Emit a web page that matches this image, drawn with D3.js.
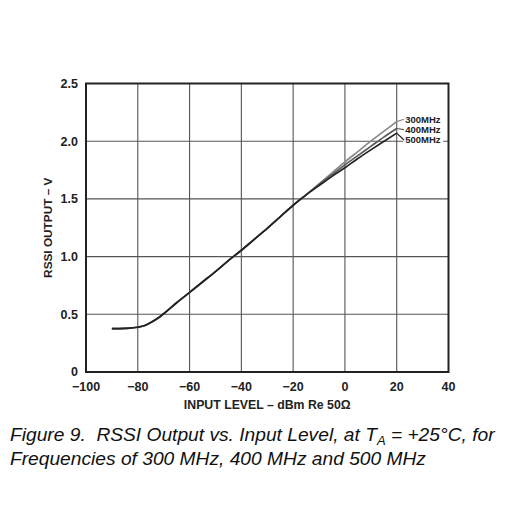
<!DOCTYPE html>
<html><head><meta charset="utf-8">
<script src="https://cdn.jsdelivr.net/npm/d3@7"></script>
<style>body{margin:0;background:#fff}svg{display:block}</style>
</head><body>
<script>
const inputLevel = [-90,-85,-80,-77,-75,-72,-70,-65,-60,-55,-50,-45,-40,-35,-30,-25,-20,-15,-10,-5,0,5,10,15,20];
const common =     [0.375,0.378,0.388,0.405,0.428,0.47,0.505,0.6,0.69,0.78,0.87,0.965,1.055,1.15,1.245,1.345,1.445,1.535];
const rssi300 = common.concat([1.63,1.725,1.82,1.91,2.0,2.085,2.17]);
const rssi400 = common.concat([1.625,1.71,1.795,1.875,1.955,2.035,2.11]);
const rssi500 = common.concat([1.615,1.695,1.77,1.85,1.925,1.998,2.07]);
const seriesNames = ["300MHz","400MHz","500MHz"];
const labelLevels = [2.19,2.10,2.01];
const xTicks = [-100,-80,-60,-40,-20,0,20,40];
const yTicks = [0,0.5,1.0,1.5,2.0,2.5];
const yTickLabels = ["0","0.5","1.0","1.5","2.0","2.5"];

const W=520,H=520;
const svg=d3.select("body").append("svg").attr("width",W).attr("height",H);
const x=d3.scaleLinear().domain([-100,40]).range([86,448.5]);
const y=d3.scaleLinear().domain([0,2.5]).range([372,83.5]);
const font="'Liberation Sans', Arial, sans-serif";

// grid
svg.append("g").selectAll("line").data(xTicks.slice(1,-1)).join("line")
  .attr("x1",d=>x(d)).attr("x2",d=>x(d)).attr("y1",y(0)).attr("y2",y(2.5))
  .attr("stroke","#555").attr("stroke-width",1.1);
svg.append("g").selectAll("line").data(yTicks.slice(1,-1)).join("line")
  .attr("y1",d=>y(d)).attr("y2",d=>y(d)).attr("x1",x(-100)).attr("x2",x(40))
  .attr("stroke","#555").attr("stroke-width",1.1);

// curves
const colors=["#8a8a8a","#5a5a5a","#222"];
const data=[rssi300,rssi400,rssi500];
const line=d3.line().x((d,i)=>x(inputLevel[i])).y(d=>y(d)).curve(d3.curveMonotoneX);
data.forEach((s,k)=>{
  svg.append("path").attr("d",line(s)).attr("fill","none")
    .attr("stroke",colors[k]).attr("stroke-width",1.7);
});

// legend labels with leaders
seriesNames.forEach((n,k)=>{
  const s=data[k];
  const ex=x(inputLevel[inputLevel.length-1]), ey=y(s[s.length-1]);
  const ly=y(labelLevels[k]);
  svg.append("rect").attr("x",x(22.5)).attr("y",ly-5).attr("width",40).attr("height",10).attr("fill","#fff");
  svg.append("line").attr("x1",ex).attr("y1",ey).attr("x2",x(22.8)).attr("y2",ly)
    .attr("stroke",colors[k]).attr("stroke-width",1.2);
  svg.append("text").attr("x",x(23.3)).attr("y",ly).attr("dy","0.35em")
    .attr("font-family",font).attr("font-weight","bold").attr("font-size",9.5)
    .attr("fill","#222").text(n);
});

// frame
svg.append("rect").attr("x",x(-100)).attr("y",y(2.5)).attr("width",x(40)-x(-100)).attr("height",y(0)-y(2.5))
  .attr("fill","none").attr("stroke","#222").attr("stroke-width",2);

// tick labels
svg.append("g").selectAll("text").data(yTicks).join("text")
  .attr("x",78).attr("y",d=>y(d)).attr("dy","0.35em").attr("text-anchor","end")
  .attr("font-family",font).attr("font-weight","bold").attr("font-size",12.5).attr("fill","#222")
  .text((d,i)=>yTickLabels[i]);
svg.append("g").selectAll("text").data(xTicks).join("text")
  .attr("x",d=>x(d)).attr("y",391).attr("text-anchor","middle")
  .attr("font-family",font).attr("font-weight","bold").attr("font-size",12.5).attr("fill","#222")
  .text(d=>d<0?"\u2212"+Math.abs(d):d);

// axis titles
svg.append("text").attr("x",x(-30)).attr("y",409).attr("text-anchor","middle")
  .attr("font-family",font).attr("font-weight","bold").attr("font-size",12.3).attr("fill","#222")
  .text("INPUT LEVEL \u2013 dBm Re 50\u03A9");
svg.append("text").attr("transform","translate(52,"+y(1.25)+") rotate(-90)").attr("text-anchor","middle")
  .attr("font-family",font).attr("font-weight","bold").attr("font-size",11.8).attr("fill","#222")
  .text("RSSI OUTPUT \u2013 V");

// caption
const cap=svg.append("text").attr("font-family",font).attr("font-style","italic").attr("font-size",19.2).attr("fill","#111");
const l1=cap.append("tspan").attr("x",10).attr("y",441);
l1.append("tspan").text("Figure 9.\u00A0 RSSI Output vs. Input Level, at T");
l1.append("tspan").attr("font-size",13).attr("dy",4).text("A");
l1.append("tspan").attr("dy",-4).text(" = +25\u00B0C, for");
cap.append("tspan").attr("x",10).attr("y",465).text("Frequencies of 300 MHz, 400 MHz and 500 MHz");
</script>
</body></html>
